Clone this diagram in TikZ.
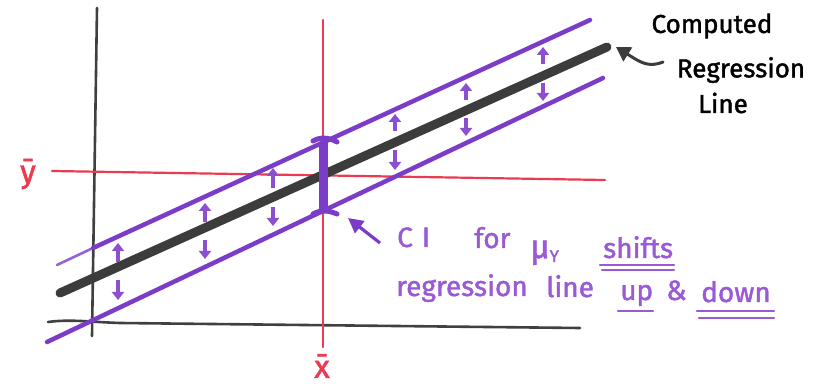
\documentclass[tikz,border=0pt]{standalone}
\usepackage{fontspec}
\setmainfont{Fira Sans}
\newfontfamily\markerfont[FakeBold=1.5]{Fira Sans}
\usetikzlibrary{arrows.meta}
\definecolor{pline}{HTML}{7B3CC8}
\definecolor{parrow}{HTML}{8C4FD2}
\definecolor{ptext}{HTML}{9A5AD6}
\definecolor{rline}{HTML}{EC3A50}
\definecolor{kline}{HTML}{3C3C3C}
\definecolor{kaxis}{HTML}{404040}
\tikzset{
  axisline/.style={draw=kaxis, line width=2.6pt, line cap=round},
  redline/.style={draw=rline, line width=2.2pt, line cap=round},
  regline/.style={draw=kline, line width=9pt, line cap=round},
  purpline/.style={draw=pline, line width=4.5pt, line cap=round},
  shiftarrow/.style={draw=parrow, line width=4pt, -{Triangle[length=8pt,width=12pt]}},
  ptxt/.style={text=ptext, font=\markerfont\fontsize{28}{30}\selectfont, anchor=base west, inner sep=0pt},
  ktxt/.style={text=black, font=\markerfont\fontsize{26}{28}\selectfont, anchor=center, inner sep=0pt},
  rtxt/.style={text=rline, font=\markerfont\fontsize{32}{34}\selectfont, anchor=center, inner sep=0pt},
  uline/.style={draw=ptext, line width=2.2pt, line cap=round}
}
\begin{document}
\begin{tikzpicture}[x=1pt,y=-1pt]
\useasboundingbox[fill=white] (0,0) rectangle (820,390);
% axes
\coordinate (yaxT) at (97,8);
\coordinate (yaxB) at (92,336);
\coordinate (xaxL) at (48,322);
\coordinate (xaxR) at (580,328);
\draw[axisline] (yaxT) -- (yaxB);
\draw[axisline] (xaxL) .. controls (70,319) and (90,322) .. (120,323) -- (xaxR);
% red mean lines
\coordinate (ybL) at (52,171);
\coordinate (ybR) at (605,180);
\coordinate (xbT) at (323,20);
\coordinate (xbB) at (323,347);
\draw[redline] (ybL) -- (ybR);
\draw[redline] (xbT) -- (xbB);
\node[rtxt] (ybar) at (28,174) {ȳ};
\node[rtxt] (xbar) at (322,366) {x\symbol{"0304}};
% purple band lines
\coordinate (upThin) at (57,265);
\coordinate (upL) at (93,248);
\coordinate (upR) at (590,20);
\coordinate (loL) at (47,342);
\coordinate (loR) at (603,78);
\draw[draw=pline!80, line width=2.6pt, line cap=round] (upThin) -- (upL);
\draw[purpline] (upL) -- (upR);
\draw[purpline] (loL) -- (loR);
% regression line
\coordinate (regL) at (60,293);
\coordinate (regR) at (607,47);
\draw[regline] (regL) -- (regR);
% CI bar
\coordinate (ciT) at (323,142);
\coordinate (ciB) at (323,213);
\draw[draw=pline, line width=9pt] (ciT) -- (ciB);
\draw[draw=pline, line width=5pt, line cap=round] (313,141) .. controls (320,137) and (328,137) .. (337,142);
\draw[draw=pline, line width=5pt, line cap=round] (313,214) .. controls (320,210) and (328,210) .. (337,214);
% shift arrows
\foreach \x/\ua/\ub/\da/\db in {118/262/243/280/300, 205/222/203/240/259, 273/188/168/207/226, 395/131/114/150/170, 466/100/83/118/136, 543/64/47/83/101}{
  \draw[shiftarrow] (\x,\ua) -- (\x,\ub);
  \draw[shiftarrow] (\x,\da) -- (\x,\db);
}
% CI pointer arrow
\coordinate (ciArrS) at (380,243);
\coordinate (ciArrE) at (348,218);
\draw[draw=pline, line width=3.2pt, -{Triangle[length=15pt,width=15pt]}] (ciArrS) -- (ciArrE);
% purple annotation text
\node[ptxt] (tCI) at (397,247) {C\hspace{9pt}I};
\node[ptxt] (tfor) at (474,248) {for};
\node[ptxt] (tmu) at (530,258) {\fontsize{33}{33}\selectfont μ\raisebox{-4pt}{\fontsize{17}{17}\selectfont Y}};
\node[ptxt] (tshifts) at (603,258) {shifts};
\draw[uline] (600,265) -- (674,265);
\draw[uline] (602,270) -- (674,270);
\node[ptxt] (treg) at (396,296) {regression};
\node[ptxt] (tline) at (546,297) {line};
\node[ptxt] (tup) at (620,300) {up};
\draw[uline] (618,311) -- (653,311);
\node[ptxt] (tamp) at (666,300) {\&};
\node[ptxt] (tdown) at (701,302) {down};
\draw[uline] (697,311) -- (774,311);
\draw[uline] (699,318) -- (774,318);
% black annotation
\node[ktxt] (kComp) at (712,26) {Computed};
\node[ktxt] (kReg) at (741,70) {Regression};
\node[ktxt] (kLine) at (723,103) {Line};
\coordinate (kArrS) at (663,62);
\coordinate (kArrE) at (616,47);
\draw[draw=kline, line width=3pt, line cap=round, -{Triangle[length=14pt,width=16pt]}] (kArrS) .. controls (648,68) and (640,62) .. (kArrE);
\end{tikzpicture}
\end{document}
